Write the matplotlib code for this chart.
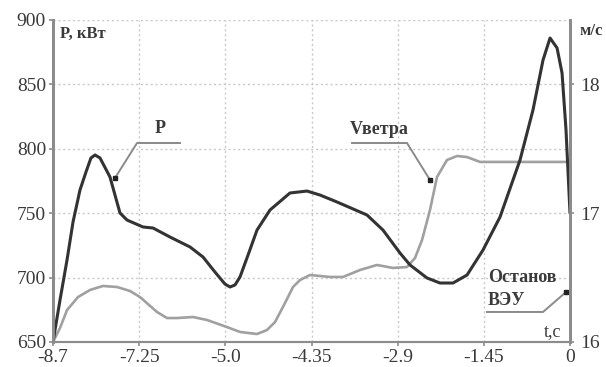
import matplotlib
matplotlib.use("Agg")
import matplotlib.pyplot as plt

# ---- data ----
p_t = [-8.70, -8.582, -8.464, -8.363, -8.246, -8.145, -8.061, -7.993, -7.909, -7.741,
       -7.573, -7.455, -7.186, -7.017, -6.731, -6.395, -6.176, -5.974, -5.806, -5.721,
       -5.637, -5.553, -5.418, -5.267, -5.048, -4.712, -4.426, -4.207, -3.921, -3.416,
       -3.147, -2.861, -2.692, -2.406, -2.188, -1.969, -1.733, -1.464, -1.178, -0.841,
       -0.623, -0.454, -0.336, -0.218, -0.134, -0.067, 0.0]
p_kw = [650.0, 682.6, 713.7, 743.2, 768.0, 782.0, 792.9, 795.2, 792.9, 778.1,
        750.2, 744.7, 739.3, 738.5, 731.5, 723.8, 716.0, 704.3, 695.0, 692.7,
        694.3, 700.5, 717.5, 736.9, 752.5, 765.7, 767.2, 764.1, 758.7, 748.6,
        736.9, 719.1, 709.8, 699.7, 695.8, 695.8, 702.0, 721.4, 747.0, 791.3,
        830.1, 868.9, 886.0, 878.3, 858.9, 814.6, 750.2]

v_t = [-8.70, -8.582, -8.464, -8.279, -8.077, -7.859, -7.623, -7.404, -7.236, -6.950,
       -6.782, -6.613, -6.344, -6.109, -5.772, -5.553, -5.267, -5.099, -4.964, -4.830,
       -4.661, -4.544, -4.375, -4.039, -3.820, -3.534, -3.248, -2.979, -2.743, -2.608,
       -2.490, -2.356, -2.238, -2.070, -1.902, -1.733, -1.514, -1.262, 0.0]
v_ms = [16.000, 16.109, 16.248, 16.349, 16.404, 16.435, 16.427, 16.396, 16.349, 16.233,
        16.186, 16.186, 16.194, 16.171, 16.116, 16.078, 16.062, 16.093, 16.155, 16.272,
        16.427, 16.481, 16.520, 16.505, 16.505, 16.559, 16.598, 16.575, 16.582, 16.652,
        16.792, 17.025, 17.281, 17.413, 17.444, 17.436, 17.398, 17.398, 17.398]

x_ticks = [-8.7, -7.25, -5.8, -4.35, -2.9, -1.45, 0.0]
x_labels = ["-8.7", "-7.25", "-5.0", "-4.35", "-2.9", "-1.45", "0"]
y_ticks = [650, 700, 750, 800, 850, 900]
y2_ticks = [16, 17, 18]

plt.rcParams['font.family'] = ['Liberation Serif', 'DejaVu Serif']

fig = plt.figure(figsize=(6.06, 3.67), dpi=100)
ax = fig.add_axes([53/606, 1-342/367, 517/606, 322/367])
ax2 = ax.twinx()

txt = '#3a3a3a'
spine_c = '#8c8c8c'

ax.plot(v_t, [650 + (v - 16) * 100 for v in v_ms], color='#a0a0a0', lw=1.9, zorder=3,
        solid_joinstyle='round', solid_capstyle='round')
ax.plot(p_t, p_kw, color='#333333', lw=2.2, zorder=4,
        solid_joinstyle='round', solid_capstyle='round')

ax.set_xlim(-8.7, 0)
ax.set_ylim(650, 900)
ax2.set_ylim(16, 18.5)

ax.set_xticks(x_ticks)
ax.set_xticklabels(x_labels)
ax.set_yticks(y_ticks)
ax2.set_yticks(y2_ticks)

ax.grid(True, color='#c8c8c8', linestyle=(0, (1.5, 2)), lw=1)
ax.tick_params(axis='both', labelsize=14, colors=spine_c, labelcolor=txt, length=3, width=1.2, pad=2)
ax2.tick_params(axis='y', labelsize=14, colors=spine_c, labelcolor=txt, length=3, width=1.2, pad=4)

for a in (ax, ax2):
    a.spines['top'].set_visible(False)
    a.spines['left'].set_color(spine_c)
    a.spines['right'].set_color(spine_c)
    a.spines['bottom'].set_color(spine_c)
    a.spines['left'].set_linewidth(2)
    a.spines['right'].set_linewidth(2)
    a.spines['bottom'].set_linewidth(1.5)

# annotations
lc = '#8a8a8a'
ax.plot([-6.563, -7.286, -7.657], [804.5, 804.5, 777.3], color=lc, lw=1.4, zorder=5)
ax.plot([-7.657], [777.3], 's', color='#222222', ms=2.5, zorder=6)
ax.text(-6.899, 816.1, "P", fontsize=13, color=txt, ha='center', va='center', fontweight='bold')

ax.plot([-3.668, -2.743, -2.356], [804.5, 804.5, 775.8], color=lc, lw=1.4, zorder=5)
ax.plot([-2.356], [775.8], 's', color='#222222', ms=2.5, zorder=6)
ax.text(-3.214, 814.6, "Vветра", fontsize=13, color=txt, ha='center', va='center', fontweight='bold')

ax.plot([-1.397, -0.454, -0.067], [673.3, 673.3, 688.8], color=lc, lw=1.4, zorder=5)
ax.plot([-0.067], [688.8], 's', color='#222222', ms=2.5, zorder=6)
ax.text(-1.380, 699.7, "Останов", fontsize=13, color=txt, ha='left', va='center', fontweight='bold')
ax.text(-1.380, 682.6, "ВЭУ", fontsize=13, color=txt, ha='left', va='center', fontweight='bold')

ax.text(-0.14, 657.8, "t,c", fontsize=13, color=txt, ha='right', va='center')
ax.text(0.0135, 0.9565, "P, кВт", transform=ax.transAxes, fontsize=12, color=txt,
        ha='left', va='center', fontweight='bold')
fig.text(580/606, 1-31/367, "м/с", fontsize=12, color=txt, ha='left', va='center', fontweight='bold')

fig.savefig("out.png", dpi=100)
